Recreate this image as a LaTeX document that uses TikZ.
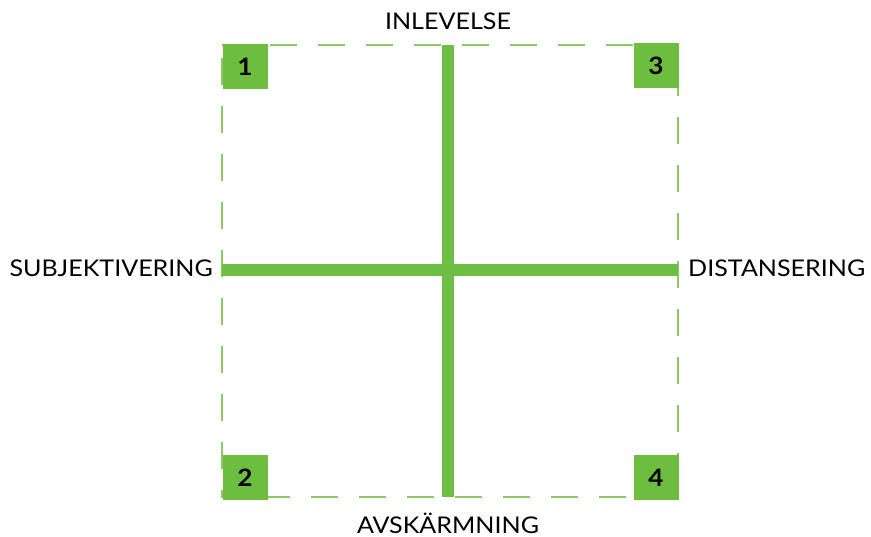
\documentclass[tikz,border=0pt]{standalone}
\usepackage{fontspec}
\setmainfont{Lato}[FakeStretch=1.09]
\definecolor{bargreen}{HTML}{6FBE44}
\definecolor{dashgreen}{HTML}{8CC863}
\definecolor{boxgreen}{HTML}{6DBD3E}
\begin{document}
\begin{tikzpicture}[x=1pt,y=-1pt,
  numbox/.style={fill=boxgreen,minimum size=45pt,inner sep=0pt,font=\fontsize{24}{24}\selectfont\bfseries},
  axislabel/.style={inner sep=0pt,font=\fontsize{23}{23}\selectfont},
  bar/.style={draw=bargreen,line width=12pt},
  frame/.style={draw=dashgreen,line width=2pt,dash pattern=on 27pt off 21pt}]
\useasboundingbox (0,0) rectangle (871,537);
% frame corners
\coordinate (tl) at (222,45);
\coordinate (tr) at (678,45);
\coordinate (br) at (678,497);
\coordinate (bl) at (222,497);
\draw[frame] (tl) -- (tr) -- (br) -- (bl) -- cycle;
% axes
\coordinate (top) at (448,45);
\coordinate (bottom) at (448,497);
\coordinate (left) at (222,270);
\coordinate (right) at (678,270);
\draw[bar] (top) -- (bottom);
\draw[bar] (left) -- (right);
% number boxes
\node[numbox] (n1) at (245,66.5) {1};
\node[numbox] (n3) at (656,65.5) {3};
\node[numbox] (n2) at (245,477.5) {2};
\node[numbox] (n4) at (656,477.5) {4};
% labels
\node[axislabel,anchor=base] (inl) at (448,30) {INLEVELSE};
\node[axislabel,anchor=base] (avs) at (448,533) {AVSKÄRMNING};
\node[axislabel,anchor=base east] (subj) at (213,277) {SUBJEKTIVERING};
\node[axislabel,anchor=base west] (dist) at (688,277) {DISTANSERING};
\end{tikzpicture}
\end{document}
